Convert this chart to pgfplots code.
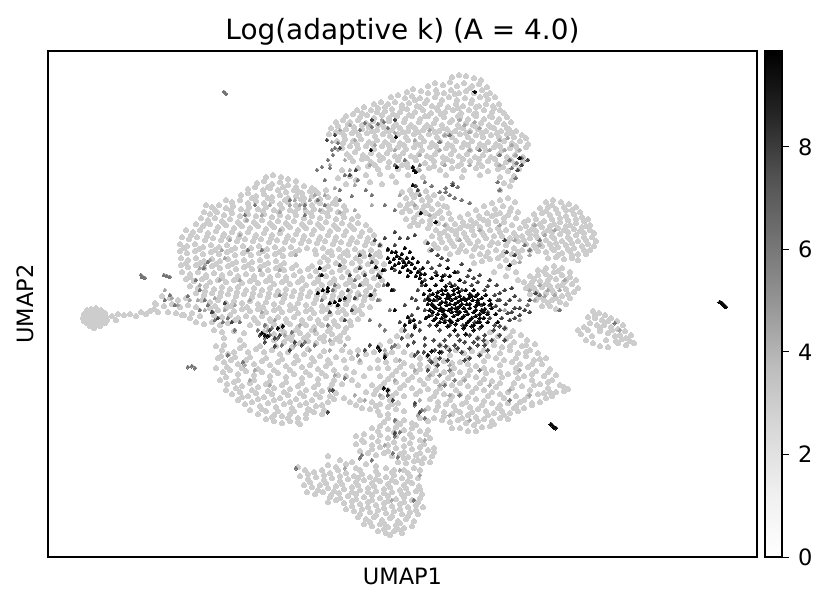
\documentclass[border=0pt]{standalone}
\usepackage{fontspec}
\setmainfont{DejaVu Sans}
\usepackage{pgfplots}
\pgfplotsset{compat=1.18}
% coordinates below are read off in reference pixels, y downwards
\definecolor{ptA}{HTML}{CDCDCD}
\definecolor{ptB}{HTML}{A6A6A6}
\definecolor{ptC}{HTML}{757575}
\definecolor{ptD}{HTML}{444444}
\definecolor{ptE}{HTML}{0A0A0A}
\pgfplotsset{
  pts/.style={only marks, color=#1, mark=*, mark size=1.2pt, line width=0pt},
  ptsmall/.style={only marks, color=#1, mark=*, mark size=0.95pt, line width=0pt},
}
\begin{document}
\begin{tikzpicture}[x=1pt,y=1pt]
\useasboundingbox (0,0) rectangle (398.4,290.9);
\begin{axis}[
  at={(23.04pt,23.52pt)}, anchor=south west,
  scale only axis, width=340.3pt, height=242.9pt,
  xmin=48, xmax=757, ymin=51, ymax=557, y dir=reverse,
  xtick=\empty, ytick=\empty,
  axis line style={line width=0.6pt},
  title={Log(adaptive k) (A = 4.0)},
  title style={font=\fontsize{13.4}{15}\selectfont, at={(0.5,1)}, anchor=south, yshift=-6.8pt},
  xlabel={UMAP1}, ylabel={UMAP2},
  xlabel style={font=\fontsize{10.8}{12}\selectfont, at={(0.5,0)}, anchor=north, yshift=-2pt},
  ylabel style={font=\fontsize{10.8}{12}\selectfont, at={(0,0.5)}, anchor=south, yshift=3.5pt},
  colormap={greys}{rgb255=(255,255,255) rgb255=(240,240,240) rgb255=(217,217,217) rgb255=(189,189,189) rgb255=(150,150,150) rgb255=(115,115,115) rgb255=(82,82,82) rgb255=(37,37,37) rgb255=(0,0,0)},
  point meta min=0, point meta max=9.87,
  colorbar,
  colorbar style={
    at={(1.01128,0)}, anchor=south west,
    width=8.16pt, height=242.9pt, scale only axis,
    ytick={0,2,4,6,8}, tickpos=right, yticklabel pos=right,
    major tick length=3.2pt, tick align=outside,
    tick style={line width=0.5pt, black},
    axis line style={line width=0.6pt},
    yticklabel style={font=\fontsize{10.8}{12}\selectfont, /pgf/number format/assume math mode=true, xshift=1pt},
  },
  clip=true,
]
% light cloud, top lobe
\addplot[pts=ptA] coordinates {
(452,77)(459,75)(466,76)(474,78)(481,80)
(428,86)(435,83)(443,85)(450,82)(457,86)(464,83)(472,86)(479,84)(487,87)
(407,92)(413,89)(421,91)(428,93)(436,90)(444,93)(451,90)(459,93)(466,91)(474,93)(482,90)(490,93)
(391,97)(398,95)(405,98)(412,96)(420,98)(427,100)(435,97)(442,100)(449,97)(457,100)(465,98)(472,100)(480,97)(488,99)(495,97)
(374,104)(381,102)(388,104)(395,102)(402,105)(409,103)(417,106)(425,103)(432,106)(440,104)(448,107)(456,104)(463,106)(471,103)(479,106)(486,104)(493,106)(499,104)
(357,110)(364,107)(371,110)(378,108)(385,111)(392,109)(400,112)(407,109)(415,112)(423,110)(431,113)(438,110)(445,112)(453,110)(461,113)(469,110)(476,113)(484,110)(492,112)(500,110)(504,113)
(346,116)(353,114)(360,117)(367,115)(374,118)(382,115)(389,118)(397,116)(405,119)(412,116)(420,119)(428,116)(436,119)(444,117)(452,120)(460,117)(468,119)(476,116)(484,119)(492,117)(499,119)(507,117)
(336,122)(343,120)(350,122)(358,120)(366,123)(373,121)(381,124)(389,121)(396,124)(404,122)(411,125)(419,122)(427,125)(434,123)(442,125)(450,122)(458,125)(466,123)(473,125)(481,123)(489,125)(497,122)(504,124)(511,122)
(331,128)(338,126)(346,129)(354,127)(362,129)(369,127)(377,130)(384,127)(392,130)(400,128)(408,131)(415,128)(423,130)(431,128)(439,131)(447,129)(455,131)(463,128)(470,131)(478,129)(486,131)(494,128)(501,131)(509,129)(516,131)
(329,134)(336,132)(344,135)(352,133)(359,135)(367,133)(375,136)(383,134)(390,136)(398,134)(406,137)(414,134)(421,137)(429,134)(437,137)(445,135)(452,137)(460,134)(468,137)(476,135)(483,137)(491,135)(499,137)(507,134)(514,137)(522,135)(526,138)
(337,141)(345,139)(353,141)(361,139)(369,142)(377,140)(385,142)(393,140)(400,143)(408,140)(416,143)(424,141)(432,143)(440,141)(448,144)(456,141)(464,143)(472,141)(480,144)(488,142)(496,144)(504,141)(512,143)(520,141)(528,144)
(342,148)(350,146)(358,148)(366,146)(374,149)(382,146)(390,149)(398,147)(406,149)(414,147)(422,150)(430,147)(438,150)(446,148)(454,150)(462,147)(470,150)(478,148)(486,150)(494,147)(502,150)(510,148)(518,150)(526,147)
(347,154)(355,152)(363,155)(371,153)(379,155)(387,153)(395,156)(403,153)(411,156)(419,154)(427,156)(435,154)(443,157)(451,154)(459,156)(467,154)(475,157)(483,155)(491,157)(499,154)(507,157)(515,155)(523,157)
(353,161)(362,159)(371,162)(380,160)(389,162)(398,160)(407,163)(416,160)(425,163)(434,161)(443,163)(452,161)(461,164)(470,161)(479,163)(488,161)(497,164)(506,162)(515,164)(523,161)
(358,168)(368,166)(378,169)(388,167)(398,169)(408,167)(418,170)(429,168)(440,170)(452,168)(464,170)(476,168)(488,171)(498,169)(508,171)(519,169)
(366,175)(380,174)(392,176)(408,175)(423,177)(446,175)(462,177)(480,175)(500,177)(514,176)(504,183)(510,186)(500,190)(512,180)
(342,170)(350,176)(338,178)(346,184)(356,180)(370,182)(382,184)(396,182)
% light cloud, left flower
(266,177)(273,175)(281,177)(288,179)(296,181)
(257,183)(264,181)(272,184)(280,182)(288,185)(296,187)(304,186)(312,188)
(248,189)(255,187)(263,190)(270,188)(278,190)(286,192)(294,190)(302,193)(310,191)(318,193)(326,190)
(241,195)(248,193)(256,196)(264,194)(272,197)(280,195)(288,198)(296,196)(304,198)(312,196)(320,199)(328,197)(336,199)
(226,200)(232,202)(240,200)(248,203)(256,201)(264,203)(272,201)(280,204)(288,202)(296,205)(304,203)(312,205)(320,203)(328,206)(336,204)(344,206)
(206,205)(212,207)(219,205)(226,208)(233,206)(241,209)(249,207)(258,209)(266,207)(274,210)(282,208)(290,210)(298,208)(306,211)(314,209)(322,211)(330,209)(338,212)(346,210)
(204,212)(210,214)(217,212)(224,215)(232,213)(240,216)(248,214)(256,216)(264,214)(272,217)(280,215)(288,217)(296,215)(304,218)(312,216)(320,218)(328,216)(336,219)(344,217)(352,219)(358,216)
(201,218)(208,220)(215,218)(222,221)(230,219)(238,222)(246,220)(254,222)(262,220)(270,223)(278,221)(286,223)(294,221)(302,224)(310,222)(318,224)(326,222)(334,225)(342,223)(350,225)(358,223)(366,225)
(196,224)(203,226)(210,224)(218,227)(226,225)(234,228)(242,226)(250,228)(258,226)(266,229)(274,227)(282,229)(290,227)(298,230)(306,228)(314,230)(322,228)(330,231)(338,229)(346,231)(354,229)(362,232)(370,230)
(186,230)(193,232)(200,230)(208,233)(216,231)(224,234)(232,232)(240,234)(248,232)(256,235)(264,233)(272,235)(280,233)(288,236)(296,234)(304,236)(312,234)(320,237)(328,235)(336,237)(344,235)(352,238)(360,236)(368,238)(374,235)
(182,237)(189,239)(197,237)(205,240)(213,238)(221,240)(229,238)(237,241)(245,239)(253,241)(261,239)(269,242)(277,240)(285,242)(293,240)(301,243)(309,241)(317,243)(325,241)(333,244)(341,242)(349,244)(357,242)(365,245)(373,243)(380,245)
(180,244)(187,246)(195,244)(203,247)(211,245)(219,247)(227,245)(235,248)(243,246)(251,248)(259,246)(267,249)(275,247)(283,249)(291,247)(299,250)(307,248)(315,250)(323,248)(331,251)(339,249)(347,251)(355,249)(363,252)(371,250)(379,252)
(180,251)(187,253)(195,251)(203,254)(211,252)(219,254)(227,252)(235,255)(243,253)(251,255)(259,253)(267,256)(275,254)(283,256)(291,254)(316,254)(324,257)(332,255)(340,257)(348,255)(356,258)(364,256)(372,258)(380,256)
(181,258)(188,260)(196,258)(204,261)(212,259)(220,261)(228,259)(236,262)(244,260)(252,262)(260,260)(268,263)(276,261)(284,263)(320,262)(328,260)(336,263)(344,261)(352,263)(360,261)(368,264)(376,262)(384,264)
(181,265)(188,267)(196,265)(204,268)(212,266)(220,268)(228,266)(236,269)(244,267)(252,269)(260,267)(268,270)(276,268)(284,270)(292,268)(300,271)(308,269)(316,271)(324,269)(332,272)(340,270)(348,272)(356,270)(364,273)(372,271)(380,273)
(182,272)(190,274)(198,272)(206,275)(214,273)(222,275)(230,273)(238,276)(246,274)(254,276)(262,274)(270,277)(278,275)(286,277)(294,275)(302,278)(310,276)(318,278)(326,276)(334,279)(342,277)(350,279)(358,277)(366,280)(374,278)(382,280)
(186,279)(194,281)(202,279)(210,282)(218,280)(226,282)(234,280)(242,283)(250,281)(258,283)(266,281)(274,284)(282,282)(290,284)(298,282)(306,285)(314,283)(322,285)(330,283)(338,286)(346,284)(354,286)(362,284)(370,287)(378,285)
(190,286)(198,288)(206,286)(214,289)(222,287)(230,289)(238,287)(246,290)(254,288)(262,290)(270,288)(278,291)(286,289)(294,291)(302,289)(310,292)(318,290)(326,292)(334,290)(342,293)(350,291)(358,293)(366,291)(374,294)
(196,293)(204,295)(212,293)(220,296)(228,294)(236,296)(244,294)(252,297)(260,295)(268,297)(276,295)(284,298)(292,296)(300,298)(308,296)(316,299)(324,297)(332,299)(340,297)(348,300)(356,298)(364,300)(372,298)
(162,296)(170,298)(178,300)(186,298)(202,300)(210,302)(218,300)(226,303)(234,301)(242,303)(250,301)(258,304)(266,302)(274,304)(282,302)(290,305)(298,303)(306,305)(314,303)(322,306)(330,304)(338,306)(346,304)(354,307)(362,305)(370,307)
(156,304)(164,306)(172,304)(180,307)(188,305)(196,307)(210,308)(218,310)(226,308)(234,311)(242,309)(250,311)(258,309)(266,312)(274,310)(282,312)(290,310)(298,313)(306,311)(314,313)(322,311)(330,314)(338,312)(346,314)(354,312)(362,314)
(176,313)(184,315)(192,313)(200,316)(214,315)(222,317)(230,315)(238,318)(246,316)(254,318)(262,316)(270,319)(278,317)(286,319)(294,317)(302,320)(310,318)(318,320)(326,318)(334,321)(342,319)(350,321)(358,319)
(196,322)(204,324)(212,322)(220,325)(228,323)(250,325)(258,323)(266,326)(274,324)(282,326)(290,324)(298,327)(306,325)(314,327)(322,325)(330,328)(338,326)(346,328)
(214,330)(222,332)(234,331)(244,333)(264,332)(274,334)(284,332)(292,335)(300,333)(308,335)(316,333)(324,336)(332,334)(340,336)
(224,338)(240,340)(274,340)(284,342)(292,340)(300,343)(308,341)(316,343)(324,341)(332,343)(340,341)(348,338)
% tail and blob
(84,314)(87,310)(91,309)(96,308)(101,310)(105,313)(83,318)(87,315)(91,313)(96,312)(101,314)(106,317)(84,321)(88,319)(92,317)(97,316)(102,318)(107,320)(87,323)(91,321)(96,320)(101,322)(105,323)(90,326)(95,325)(100,326)(94,328)
(112,316)(118,314)(124,315)(130,314)(136,316)(141,312)(146,314)(150,311)(154,309)(158,312)(155,303)(168,312)(116,320)(182,315)(190,318)
% light cloud, centre
(402,192)(410,190)(418,193)(426,191)(434,195)(442,198)(406,198)(414,197)(422,200)(430,200)(438,204)(447,207)
(400,205)(408,204)(416,207)(424,206)(432,209)(440,211)(449,213)(402,212)(410,211)(418,214)(426,213)(434,216)(442,218)(451,219)(460,217)(468,214)(476,210)(484,206)(492,203)(500,200)(508,198)(515,202)
(406,219)(414,218)(422,221)(430,220)(438,223)(446,225)(455,224)(463,222)(471,220)(479,216)(487,213)(495,209)(503,206)(511,208)(518,212)
(410,226)(418,225)(428,228)(436,230)(444,232)(452,230)(460,228)(468,226)(476,223)(484,220)(492,216)(500,213)(508,215)(516,218)(524,222)
(432,236)(440,238)(448,236)(456,234)(464,233)(472,230)(480,227)(488,224)(496,221)(504,222)(512,225)(520,228)
(426,242)(434,244)(442,242)(450,240)(458,239)(466,237)(474,235)(482,232)(490,230)(498,228)(506,230)(514,233)(522,236)(530,234)
(430,250)(438,248)(446,248)(454,246)(462,245)(470,243)(478,241)(486,238)(494,236)(502,236)(510,238)(518,241)(526,244)
(450,254)(458,252)(466,251)(474,249)(482,247)(490,245)(498,243)(506,245)(514,248)(522,250)
(472,256)(480,254)(488,252)(496,250)(504,252)(512,254)(520,257)(474,263)(482,261)(490,259)(498,258)(506,260)(514,262)
(500,266)(508,268)(516,272)(494,272)(506,276)(518,280)
% light cloud, right lobe
(546,202)(553,200)(561,202)(569,204)(576,207)(540,208)(548,207)(556,209)(564,207)(572,210)(580,212)(534,214)(542,213)(550,215)(558,213)(566,216)(574,214)(582,217)(588,219)
(528,220)(536,219)(544,221)(552,219)(560,222)(568,220)(576,223)(584,221)(590,225)(526,226)(534,225)(542,227)(550,226)(558,228)(566,226)(574,229)(582,227)(590,230)(594,233)
(528,232)(536,231)(544,233)(552,232)(560,234)(568,232)(576,235)(584,233)(592,237)(596,241)(530,238)(538,238)(546,240)(554,238)(562,241)(570,239)(578,241)(586,240)(594,246)
(526,244)(534,245)(542,246)(550,244)(558,247)(566,245)(574,248)(582,246)(590,250)(530,250)(538,251)(546,252)(554,250)(562,253)(570,251)(578,254)(586,254)(548,258)(556,257)(564,259)(572,258)(578,260)
(538,270)(546,268)(554,266)(562,268)(570,272)(530,276)(538,275)(546,274)(554,272)(562,275)(570,277)(576,280)(524,282)(532,282)(540,281)(548,280)(556,279)(564,282)(572,284)(578,288)
(526,288)(534,288)(542,287)(550,286)(558,286)(566,289)(574,292)(530,294)(538,294)(546,293)(554,293)(562,296)(570,298)(536,300)(544,300)(552,300)(560,302)(566,304)(542,306)(550,306)(556,309)
% right island
(593,311)(599,313)(605,315)(611,318)(617,321)(623,325)(588,317)(595,318)(602,320)(590,323)(597,325)(584,327)(604,325)(611,327)(618,329)(625,331)(631,335)(581,334)(600,331)(608,333)(615,336)(622,339)(630,341)(586,340)(593,343)(600,346)(608,347)(618,343)(634,343)(578,330)(626,345)
% light cloud, lower right
(505,328)(513,331)(521,335)(527,340)(535,344)(490,332)(498,336)(506,339)(514,342)(522,346)(530,350)(538,353)(546,358)(478,338)(486,342)(494,345)(502,347)(510,350)(518,353)(526,356)(534,360)(542,364)(550,369)(556,375)
(440,345)(448,348)(456,350)(464,353)(472,351)(480,354)(488,356)(496,358)(504,360)(512,362)(520,364)(528,367)(536,371)(544,376)(552,380)(560,385)(568,389)
(404,352)(412,355)(420,358)(428,356)(436,359)(444,361)(452,363)(460,362)(468,364)(476,366)(484,368)(492,370)(500,372)(508,374)(516,372)(524,376)(532,380)(540,384)(548,388)(556,392)(564,391)
(396,360)(404,363)(412,366)(420,369)(428,367)(436,370)(444,372)(452,374)(460,372)(468,375)(476,377)(484,379)(492,381)(500,383)(514,383)(522,386)(530,390)(538,394)(546,398)(552,396)
(388,368)(396,371)(404,374)(412,377)(420,380)(428,378)(436,381)(444,383)(452,385)(460,383)(468,386)(476,388)(484,390)(492,392)(500,394)(508,392)(516,396)(524,400)(532,403)(540,402)
(380,376)(388,379)(396,382)(404,385)(412,388)(420,391)(428,389)(436,392)(444,394)(452,396)(460,394)(468,397)(476,399)(484,401)(492,403)(500,405)(508,403)(516,406)(524,408)(532,405)
(372,385)(380,387)(388,390)(396,393)(404,396)(430,399)(438,402)(446,404)(454,406)(462,404)(470,407)(478,409)(486,411)(494,413)(502,411)(510,413)(518,411)
(366,392)(374,394)(382,397)(390,400)(398,403)(428,408)(436,410)(444,412)(452,414)(460,412)(468,415)(476,417)(484,419)(492,421)(500,418)(508,419)
(434,418)(442,420)(450,422)(458,420)(466,423)(474,425)(482,427)(490,426)(452,428)(460,428)(468,431)(476,431)
(344,398)(350,402)(356,405)(362,408)(370,409)(378,411)(372,402)(380,404)(388,407)(396,409)(404,411)(388,414)
% left band into centre
(380,345)(374,352)(390,341)(397,336)(402,330)(408,336)(398,346)(386,354)(378,360)(370,368)(364,376)(378,368)(386,362)(392,352)
(342,350)(350,352)(358,350)(366,354)(336,357)(344,360)(352,358)(360,362)(346,368)(354,372)(346,376)(352,380)(358,385)(342,384)
% light cloud, lower left lobe
(216,346)(222,350)(228,354)(234,352)(240,348)(248,352)(256,349)(264,352)(272,350)(280,354)(288,352)(296,356)(304,354)(312,358)(320,356)(328,360)
(218,358)(224,362)(231,360)(238,364)(246,360)(254,364)(262,361)(270,365)(278,362)(286,366)(294,363)(302,367)(310,365)(318,369)(326,366)(334,370)
(216,368)(223,372)(230,370)(238,374)(246,371)(254,375)(262,372)(270,376)(278,373)(286,377)(294,374)(302,378)(310,375)(318,379)(326,376)(334,380)
(220,380)(227,384)(234,382)(242,386)(250,383)(258,387)(266,384)(274,388)(282,385)(290,389)(298,386)(306,390)(314,387)(322,391)(330,388)(336,393)
(226,390)(232,394)(240,392)(248,396)(256,393)(264,397)(272,394)(280,398)(288,395)(296,399)(304,396)(312,400)(320,397)(328,402)(334,399)
(238,400)(245,404)(252,402)(260,406)(268,403)(276,407)(284,404)(292,408)(300,405)(308,409)(316,406)(324,410)
(250,410)(258,414)(266,411)(274,415)(282,416)(290,414)(298,418)(306,414)(314,412)(322,414)(266,419)(274,421)(282,423)(290,421)(298,422)(306,418)
% light cloud, bottom
(380,415)(388,418)(396,421)(404,420)(412,423)(420,418)(428,421)(372,428)(380,426)(388,429)(396,427)(404,430)(412,428)(420,431)(428,430)
(356,436)(364,434)(372,437)(380,435)(388,438)(396,436)(404,439)(412,437)(420,440)(430,438)(356,444)(364,442)(372,445)(380,447)(388,445)(396,448)(404,446)(412,449)(420,447)(428,450)(434,448)
(360,451)(368,453)(376,455)(384,453)(392,456)(400,454)(408,457)(416,455)(424,458)(432,456)(398,462)(406,463)(414,461)(422,463)(430,462)
(328,456)(340,460)(352,462)(328,465)(336,467)(346,464)(356,468)(366,464)(376,466)(386,468)(394,470)(404,470)(414,468)(420,470)
(298,467)(305,470)(314,472)(322,470)(330,473)(338,470)(346,473)(354,476)(362,474)(370,477)(378,474)(386,477)(394,475)(402,478)(410,476)(418,478)
(300,476)(308,479)(316,477)(324,480)(332,478)(340,481)(348,479)(356,482)(364,480)(372,483)(380,481)(388,484)(396,482)(404,485)(412,483)(419,486)
(304,485)(312,487)(320,485)(328,488)(336,486)(344,489)(352,487)(360,490)(368,488)(376,491)(384,489)(392,492)(400,490)(408,493)(416,491)(422,494)
(307,492)(315,494)(323,492)(331,495)(339,493)(348,496)(356,494)(364,497)(372,495)(380,498)(388,496)(396,499)(404,497)(412,500)(420,498)
(328,502)(336,500)(344,503)(352,501)(360,504)(368,502)(376,505)(384,503)(392,506)(400,504)(408,507)(416,505)(423,507)
(330,497)(346,509)(354,511)(362,509)(370,512)(378,510)(386,513)(394,511)(402,514)(410,512)(418,514)
(358,517)(366,519)(374,517)(382,520)(390,518)(398,521)(406,519)(414,521)(364,524)(372,526)(380,524)(388,527)(396,525)(404,528)(412,526)(378,531)(386,533)(394,531)(402,533)(390,535)
% second pass over the denser bands
(362,113)(377,112)(393,114)(409,115)(425,116)(441,114)(458,116)(474,114)(490,116)(348,124)(362,125)(378,125)(394,126)(409,127)(425,127)(443,128)(459,127)(475,126)(491,127)(507,128)
(341,132)(355,131)(372,131)(387,131)(403,132)(418,132)(435,132)(450,133)(466,133)(482,133)(497,133)(512,133)(343,143)(357,144)(373,144)(389,145)(404,145)(420,145)(436,146)(452,146)(468,145)(484,146)(500,146)(516,146)
(350,157)(367,158)(383,158)(399,157)(415,158)(431,158)(447,159)(463,159)(479,159)(495,159)(511,160)(375,165)(402,165)(434,166)(458,166)(482,166)(503,167)(415,100)(437,93)(455,94)(470,88)(486,95)(385,107)(402,108)(420,107)(437,108)(458,108)(476,107)(494,108)
(268,187)(283,187)(299,192)(315,190)(252,198)(268,198)(285,200)(301,199)(317,201)(333,203)(215,210)(231,210)(247,211)(263,211)(279,212)(295,212)(311,213)(327,213)(343,214)(207,223)(224,223)(240,224)(256,224)(272,225)(288,225)(304,226)(320,226)(336,227)(352,227)
(191,235)(207,236)(223,236)(239,237)(255,237)(271,238)(287,238)(303,239)(319,239)(335,240)(351,240)(367,241)(184,248)(199,249)(215,250)(231,250)(247,251)(263,251)(279,252)(295,252)(328,252)(344,253)(360,253)(376,254)
(186,263)(200,263)(216,264)(232,264)(248,265)(264,265)(280,266)(296,265)(312,266)(328,266)(344,267)(360,267)(376,268)(190,277)(206,277)(222,278)(238,279)(254,279)(270,280)(286,280)(302,280)(318,281)(334,281)(350,282)(366,283)
(205,291)(221,292)(237,292)(253,293)(269,293)(285,294)(301,294)(317,295)(333,295)(349,296)(365,296)(215,306)(231,306)(247,307)(263,307)(279,308)(295,308)(311,309)(327,309)(343,310)(359,310)(235,320)(255,320)(271,321)(287,322)(303,323)(319,323)(335,324)(351,325)
(280,329)(296,330)(312,330)(328,331)(344,332)(288,338)(304,338)(320,338)(336,339)(90,312)(94,315)(99,317)(104,315)(88,317)(93,319)(98,322)(103,320)(96,310)(100,312)(92,323)(86,318)
(412,194)(428,197)(444,206)(412,203)(428,205)(406,208)(422,210)(438,213)(414,222)(430,224)(448,228)(464,225)(480,218)(496,214)(510,211)(440,234)(456,231)(472,226)(488,221)(504,218)(436,247)(452,243)(468,240)(484,235)(500,232)(516,236)(460,249)(476,246)(492,242)(508,241)(524,240)(486,256)(502,255)(518,252)
(552,205)(566,210)(546,211)(560,218)(576,219)(540,224)(554,224)(570,225)(586,226)(532,229)(548,230)(564,230)(580,231)(536,235)(552,236)(568,237)(584,237)(540,243)(556,243)(572,243)(588,244)(536,248)(552,248)(568,249)(584,250)(558,255)(572,255)
(544,271)(558,271)(534,279)(550,277)(566,280)(530,285)(546,284)(562,285)(536,291)(552,290)(568,294)(540,297)(556,298)(548,303)(595,315)(608,321)(600,328)(612,330)(620,335)(592,336)(606,340)(616,341)(588,330)(626,338)
(510,336)(526,345)(494,341)(510,346)(526,352)(540,359)(484,350)(500,353)(516,358)(532,364)(548,372)(450,355)(468,358)(484,361)(500,365)(516,368)(532,374)(548,382)(564,387)(420,364)(436,364)(454,368)(470,370)(486,373)(502,377)(518,378)(534,385)(550,392)
(400,367)(416,372)(432,374)(448,378)(464,379)(480,383)(496,387)(512,388)(528,396)(544,393)(392,375)(408,380)(424,384)(440,388)(456,390)(472,392)(488,396)(504,398)(520,402)(384,383)(400,388)(416,394)(434,396)(450,400)(466,402)(482,405)(498,408)(514,408)(376,390)(392,396)(438,406)(456,410)(472,412)(488,415)(504,415)(444,416)(462,418)(478,421)(494,424)(360,400)(376,406)(392,404)
(224,345)(244,345)(260,346)(276,346)(292,347)(308,349)(324,351)(221,356)(235,357)(250,357)(266,358)(282,359)(298,360)(314,361)(330,363)(227,367)(242,368)(258,369)(274,370)(290,370)(306,372)(322,373)(338,375)(226,377)(238,380)(254,380)(270,381)(286,382)(302,383)(318,384)(332,384)
(236,388)(252,390)(268,391)(284,392)(300,393)(316,394)(330,396)(242,397)(258,399)(274,400)(290,402)(306,403)(322,405)(262,409)(278,411)(294,411)(310,410)(272,417)(288,418)(300,424)
(384,422)(400,424)(416,425)(378,431)(394,432)(410,434)(426,434)(362,440)(378,441)(394,442)(410,443)(424,444)(372,449)(388,451)(404,452)(420,453)(434,452)(404,458)(418,460)(360,470)(376,471)(392,472)(408,473)(308,474)(324,475)(340,476)(358,478)(376,479)(392,480)(408,481)
(310,482)(326,483)(342,484)(358,485)(374,486)(390,487)(406,488)(420,489)(318,490)(334,491)(352,492)(368,492)(384,493)(402,494)(340,498)(356,499)(372,500)(388,501)(404,502)(418,502)(352,506)(368,507)(384,508)(400,509)(416,510)(360,514)(376,515)(392,516)(408,516)(370,522)(384,523)(400,523)(384,529)(398,529)
};
% mid grey scatter
\addplot[ptsmall=ptB] coordinates {
(340,130)(350,125)(370,125)(382,120)(395,133)(415,140)(430,130)(445,135)(460,120)(465,125)(475,122)(480,128)(470,132)(500,140)(508,138)(512,145)(505,150)(516,155)(520,150)(490,150)(470,150)(440,150)(420,155)(395,150)(375,145)(355,140)
(345,160)(338,150)(332,142)(350,170)(355,185)(370,165)(395,165)(420,170)(445,165)(470,165)(500,165)(330,165)(335,188)(325,195)(310,200)(300,205)(315,195)(290,205)(305,208)(295,200)(280,212)(320,210)(340,212)(355,210)(372,205)
(205,265)(200,268)(210,260)(222,250)(230,240)(240,235)(225,258)(247,220)(262,215)(270,205)(280,230)(296,255)(260,270)(280,270)(240,280)(220,280)(200,285)(165,290)(172,298)(178,305)(190,300)(198,300)(205,310)(215,298)(225,310)(235,305)(250,300)(262,312)(275,320)(268,330)(285,335)(300,325)(315,330)(330,340)(345,300)(360,295)(375,290)(380,300)
(345,345)(330,350)(295,345)(310,350)(245,365)(255,370)(250,380)(270,385)(335,375)(360,360)(385,350)(400,360)(420,400)(425,410)(418,415)(395,432)(385,445)(425,440)(400,470)(420,475)(392,500)(345,468)
(535,225)(545,235)(555,230)(540,245)(530,255)(520,262)(515,240)(500,225)(480,230)(460,240)(445,225)(430,215)(415,205)(400,195)(540,285)(548,290)(555,295)(535,300)(545,296)(530,290)(560,290)(565,280)(620,330)(505,310)(520,320)
(440,385)(450,395)(465,380)(490,385)(510,390)(530,395)(520,370)(470,420)(450,415)(430,375)(415,370)(395,380)(380,395)(365,400)(355,395)(450,365)
};
\addplot[ptsmall=ptC] coordinates {
% top lobe lower edge
(333,155)(335,148)(338,143)(332,150)(328,160)(330,168)(317,170)(325,180)(322,167)(340,190)(345,175)(360,130)(365,123)(372,127)(378,124)(384,122)(388,128)(440,142)(450,135)(480,150)(500,155)(510,160)(517,163)(522,158)(512,168)(516,178)(498,182)(500,190)(453,183)(458,187)(450,195)(446,192)(440,192)(455,198)(462,200)(470,203)(446,188)(425,182)(432,186)(405,160)(420,165)(395,165)(420,195)
(358,180)(366,190)(352,196)(340,200)(325,205)(318,200)(305,205)(372,195)(385,205)(395,210)
% left flower
(196,280)(204,268)(208,262)(200,290)(170,295)(175,305)(165,300)(188,296)(200,310)(208,305)(213,312)(205,300)(215,320)(223,322)(228,318)(258,330)(265,338)(278,338)(292,332)(305,342)(315,345)(328,325)(322,300)(333,290)(320,275)(335,285)(355,280)(370,295)(305,215)(290,200)(255,205)(245,215)(262,250)(248,250)(280,295)(270,335)(265,325)(272,328)(282,345)(240,322)(235,330)
(384,285)(378,300)(390,310)(392,290)(370,320)(385,330)(380,325)(395,345)
% lower
(385,355)(392,347)(358,355)(345,378)(330,390)(228,355)(243,362)(192,366)(188,367)(195,368)(415,405)(422,410)(425,418)(400,432)(395,436)(372,460)(393,453)(398,457)(360,458)(362,455)(296,468)(414,500)(430,360)(440,375)(445,385)(455,380)(450,370)(460,395)(510,400)(480,370)(395,420)
% isolated clumps
(141,275)(143,277)(145,278)(142,277)(164,275)(167,276)(170,277)(224,92)(226,94)
(540,295)(528,305)(520,300)(530,250)(525,245)(540,240)(615,323)(560,310)
};
\addplot[ptsmall=ptD] coordinates {
% dark halo round the core
(380,245)(388,250)(395,245)(403,260)(395,270)(385,270)(372,262)(370,255)(378,275)(388,285)(394,290)
(420,270)(428,262)(440,265)(445,275)(450,283)(438,255)(432,250)(425,280)(418,290)(412,298)(405,305)(410,320)(415,325)(405,330)(400,322)(420,330)(412,335)(425,338)(440,345)(445,340)(450,335)(455,345)(465,342)(470,348)(478,338)(485,345)(492,340)(500,335)(495,325)(490,318)(502,318)(508,313)(515,308)(510,320)(515,318)(505,328)(490,305)(500,300)(505,290)(497,285)(490,280)(480,275)(470,270)(465,282)(510,300)(500,310)(495,295)
(432,315)(425,310)(430,325)(440,330)(450,325)(458,335)(470,335)(480,328)(485,335)(478,345)(462,352)(450,350)(435,350)(440,358)(432,362)(428,370)(415,355)(408,345)(418,352)(425,345)(438,365)(448,360)
(455,285)(462,290)(472,285)(485,290)(482,305)(488,312)(475,322)(463,325)(445,320)(437,300)(430,295)(425,300)(418,308)(412,315)(520,308)(515,296)(512,288)(525,310)(520,315)(530,312)(505,340)(480,355)(470,358)(465,360)
(408,238)(415,235)(395,232)(400,238)(428,243)(375,240)(385,238)(345,320)(352,310)(330,312)(338,305)(348,290)(355,298)(350,275)(360,285)(360,268)(365,275)(340,265)(360,255)
(270,330)(275,338)(260,335)(265,342)(280,335)(295,342)(302,345)(290,350)(275,346)(328,412)(333,390)(225,303)(218,318)(212,312)(232,322)(350,175)(356,170)(340,148)(327,140)(335,135)(395,120)(372,120)(418,190)(416,186)(453,185)(522,165)(518,170)(528,160)(415,403)(420,412)(395,433)(393,400)
(505,240)(515,255)(507,252)(498,300)(530,300)(536,293)(388,395)(370,345)(365,350)
(436,272)(448,260)(458,272)(468,276)(478,282)(488,286)(500,293)(506,304)(494,330)(484,340)(474,342)(460,340)(446,346)(434,340)(420,322)(416,300)(422,285)(432,268)(442,258)(462,264)(474,278)(496,306)(512,312)(500,326)(488,350)(458,348)(442,352)(424,352)(414,342)(402,338)
};
\addplot[ptsmall=ptE] coordinates {
% diagonal streak
(388,249)(392,252)(397,256)(400,258)(404,262)(390,262)(395,265)(403,267)(408,270)(412,264)(415,268)(418,272)(420,278)(426,285)(392,268)(400,272)(408,276)(413,258)(407,258)(418,262)(423,268)(425,274)(432,278)(405,248)(410,252)(388,258)(383,270)
(394,259)(399,263)(406,265)(411,272)(416,276)(422,282)(396,252)(402,254)(409,262)(421,274)
% core
(430,290)(436,285)(442,290)(448,294)(454,290)(460,296)(466,300)(472,296)(478,300)(484,304)(490,300)(482,310)(476,306)(470,304)(464,308)(458,302)(452,300)(446,302)(440,298)(434,300)(428,304)(436,308)(444,310)(452,308)(460,312)(468,314)(476,316)(484,318)(478,322)(470,320)(462,318)(454,316)(446,316)(438,314)(430,310)(440,322)(448,326)(456,324)(464,328)(472,326)(455,330)(447,305)(442,280)(450,276)(455,272)(448,268)(460,280)(466,290)(474,290)(486,295)(492,308)(496,314)(488,322)(482,326)(474,330)(466,334)(458,320)(450,320)(442,318)(434,320)(426,318)(424,294)(440,304)(452,312)(464,298)(476,310)(488,314)(428,298)(433,294)(446,286)(458,288)(470,308)(460,306)(450,296)(444,314)(456,298)(468,322)(480,318)
(432,304)(437,296)(443,294)(449,298)(455,304)(461,300)(467,304)(473,300)(479,304)(485,309)(491,304)(480,314)(474,312)(466,311)(458,308)(449,310)(441,308)(433,312)(429,316)(436,318)(443,311)(450,304)(457,311)(464,316)(472,318)(480,322)(474,325)(466,325)(458,314)(452,322)(445,322)(437,325)(434,306)(446,290)(452,286)(459,292)(470,294)(476,296)(482,298)(440,310)(447,298)(454,294)(462,304)(469,298)(456,308)(442,302)(438,292)(430,300)(484,312)(478,294)
(408,317)(410,322)(414,320)(405,325)(415,327)(443,276)(437,275)
% outliers
(722,303)(724,305)(726,307)(720,302)(552,425)(554,427)(556,428)(551,424)
(340,300)(335,302)(345,298)(338,305)(330,303)(320,268)(322,275)(328,291)(318,293)(323,290)(328,288)(262,333)(265,335)(268,336)(278,328)(283,326)(388,390)(384,388)(371,295)(380,277)(376,267)(392,290)(385,357)(378,347)(380,350)(388,284)(395,310)(371,150)(396,137)(397,167)(413,167)(414,170)(416,172)(475,92)(520,158)(510,265)(428,355)(440,352)(432,351)(413,185)(436,222)(421,213)(478,302)(498,322)
};
\end{axis}
\end{tikzpicture}
\end{document}
